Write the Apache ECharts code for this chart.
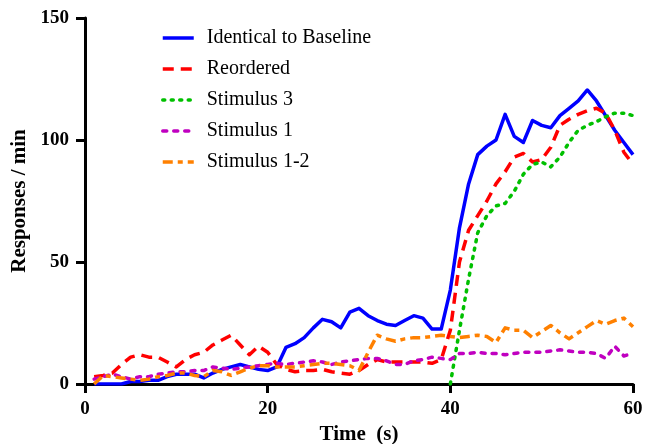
<!DOCTYPE html>
<html>
<head>
<meta charset="utf-8">
<script src="https://cdn.jsdelivr.net/npm/echarts@6/dist/echarts.min.js"></script>
<style>
html,body{margin:0;padding:0;background:#fff;}
#chart{width:646px;height:444px;}
</style>
</head>
<body>
<div id="chart"></div>
<script>
var seriesNames = ['Identical to Baseline', 'Reordered', 'Stimulus 3', 'Stimulus 1', 'Stimulus 1-2'];
var time = [1,2,3,4,5,6,7,8,9,10,11,12,13,14,15,16,17,18,19,20,21,22,23,24,25,26,27,28,29,30,31,32,33,34,35,36,37,38,39,40,41,42,43,44,45,46,47,48,49,50,51,52,53,54,55,56,57,58,59,60];
var identical = [0,0,0,0,1,1,1.5,1.5,3,4,4,4,2.5,4.5,6,7,8,7,6,5.5,7,15,16.5,19,23,26.5,25.5,23,29.5,31,28,26,24.5,24,26,28,27,22.5,22.5,38.5,64,82,94,97.5,100,110.5,101.5,99,108,106,105,110,113,116,120.5,116,110,104,99,94];
var reordered = [3,3.5,4.5,8,11,12,11,11,9,7,10,12,13,16,18,20,16,12,15.5,13,8,6,5,5.5,5.5,6,5,4.5,4,5.5,8,10,9,9,9,9,9,8.5,10,22,50,63,69,75,82,87,93,94.5,91,92,97,106,108.5,110.5,112,113,111,104,95,90];
var stimulus3 = [null,null,null,null,null,null,null,null,null,null,null,null,null,null,null,null,null,null,null,null,null,null,null,null,null,null,null,null,null,null,null,null,null,null,null,null,null,null,null,0,22,43,62,69,73,74,79,86,90,91,89,93,99,104,106,107.5,109.5,111,111,110];
var stimulus1 = [2,3,4,3,2,3,3,4,4.5,5,5,5.5,5.5,7,6.5,6,6.5,7,7.5,8,8.5,8,8.5,9,9.5,9,8,9,9.5,10,10.5,10.5,9.5,8,8,9.5,10,11,10.5,10,12.5,12.5,13,12.5,12.5,12,12.5,13,13,13,13.5,14,13.5,13,13,12.5,10.5,15.5,11.5,12.5];
var stimulus12 = [0,3.5,3,2.5,2,1.5,2,3,3.5,4.5,4.5,3.5,3,5.5,5,3.5,5,6.5,7.5,7.5,7,7,7,7.5,8,8.5,8.5,8,7.5,5.5,13,20,18.5,17.5,18.5,19,19,19.5,20,19.5,19,19.5,20,19.5,17,23,22,22,19,21.5,24,21,18.5,21,23.5,26,24.5,26,27,23.5];
var xTicks = [0, 20, 40, 60];
var yTicks = [0, 50, 100, 150];

function pairs(ys){ return time.map(function(t,i){ return [t, ys[i]]; }); }

var font = 'Liberation Serif, Times New Roman, serif';
var chart = echarts.init(document.getElementById('chart'), null, {renderer:'canvas'});
var styles = [
  {color:'#0000ff', type:'solid', cap:'butt'},
  {color:'#ff0000', type:[11,7], cap:'butt'},
  {color:'#00c000', type:[2,6.5], cap:'round'},
  {color:'#c000c0', type:[4,7], cap:'round'},
  {color:'#ff8000', type:[10,5,5,5], cap:'butt'}
];
var datas = [identical, reordered, stimulus3, stimulus1, stimulus12];
chart.setOption({
  animation:false,
  backgroundColor:'#ffffff',
  grid:{left:85,right:13,top:18,bottom:60,containLabel:false,outerBoundsMode:'none'},
  legend:{
    orient:'vertical', left:161, top:28, padding:0,
    itemWidth:31, itemHeight:14, itemGap:11,
    data:seriesNames,
    itemStyle:{color:'rgba(0,0,0,0)', borderWidth:0, opacity:0},
    lineStyle:{width:3.5},
    textStyle:{fontFamily:font, fontSize:20, color:'#000', padding:[0,0,0,8]}
  },
  xAxis:{
    type:'value', min:xTicks[0], max:xTicks[xTicks.length-1], interval:xTicks[1]-xTicks[0],
    name:'Time  (s)', nameLocation:'middle', nameGap:40,
    nameTextStyle:{fontFamily:font, fontSize:21, fontWeight:'bold', color:'#000'},
    axisLine:{show:true, lineStyle:{color:'#000', width:3}},
    axisTick:{show:true, length:9, lineStyle:{color:'#000', width:3}},
    axisLabel:{margin:16, fontFamily:font, fontSize:19, fontWeight:'bold', color:'#000'},
    splitLine:{show:false}
  },
  yAxis:{
    type:'value', min:yTicks[0], max:yTicks[yTicks.length-1], interval:yTicks[1]-yTicks[0],
    name:'Responses / min', nameLocation:'middle', nameGap:39, nameRotate:90,
    nameTextStyle:{fontFamily:font, fontSize:21, fontWeight:'bold', color:'#000'},
    axisLine:{show:true, lineStyle:{color:'#000', width:3}},
    axisTick:{show:true, length:9, lineStyle:{color:'#000', width:3}},
    axisLabel:{margin:16, fontFamily:font, fontSize:19, fontWeight:'bold', color:'#000'},
    splitLine:{show:false}
  },
  series: seriesNames.map(function(n,i){
    return {
      name:n, type:'line', data:pairs(datas[i]), symbol:'none', showSymbol:false,
      connectNulls:false, z:2+i,
      itemStyle:{color:styles[i].color},
      lineStyle:{color:styles[i].color, width:3.5, type:styles[i].type, cap:styles[i].cap, join:'round'}
    };
  })
});
</script>
</body>
</html>
